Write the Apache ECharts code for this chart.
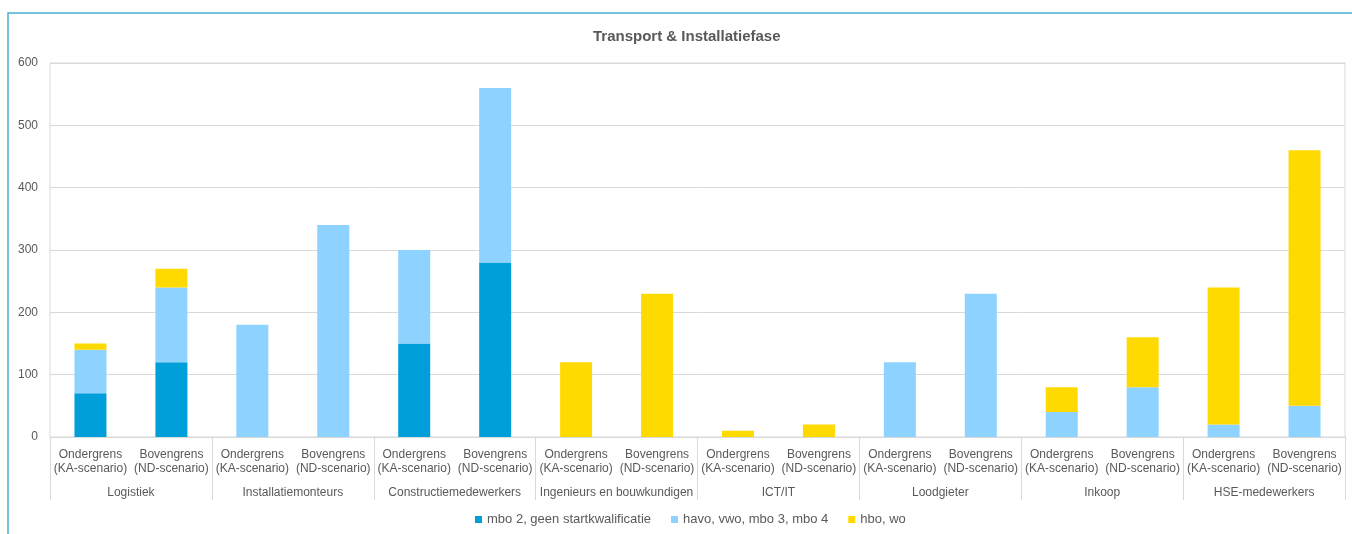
<!DOCTYPE html>
<html>
<head>
<meta charset="utf-8">
<script src="https://cdn.jsdelivr.net/npm/echarts@6/dist/echarts.min.js"></script>
<style>
html,body{margin:0;padding:0;background:#fff;}
#chart{width:1352px;height:534px;}
</style>
</head>
<body>
<div id="chart"></div>
<script>
var groups = ['Logistiek','Installatiemonteurs','Constructiemedewerkers','Ingenieurs en bouwkundigen','ICT/IT','Loodgieter','Inkoop','HSE-medewerkers'];
var subLabels = ['Ondergrens\n(KA-scenario)','Bovengrens\n(ND-scenario)'];
var seriesNames = ['mbo 2, geen startkwalificatie','havo, vwo, mbo 3, mbo 4','hbo, wo'];
var mbo  = [70,120, 0,0, 150,280, 0,0, 0,0, 0,0, 0,0, 0,0];
var havo = [70,120, 180,340, 150,280, 0,0, 0,0, 120,230, 40,80, 20,50];
var hbo  = [10,30, 0,0, 0,0, 120,230, 10,20, 0,0, 40,80, 220,410];
var yTicks = [0,100,200,300,400,500,600];

var cats = [];
groups.forEach(function(){ subLabels.forEach(function(s){ cats.push(s); }); });

var colors = ['#009FDA','#8ED2FF','#FFDA00'];
var font = 'Liberation Sans, Arial, sans-serif';
var chart = echarts.init(document.getElementById('chart'));
var vals = [mbo, havo, hbo];
chart.setOption({
  animation:false,
  textStyle:{fontFamily:font},
  title:{text:'Transport & Installatiefase',left:588,top:24,
    textStyle:{fontSize:15,fontWeight:'bold',color:'#595959',fontFamily:font}},
  legend:{bottom:3,left:470,itemWidth:7,itemHeight:7,itemGap:20,icon:'rect',
    textStyle:{fontSize:13,color:'#595959'},data:seriesNames},
  grid:{left:50,right:7,top:63,bottom:97,show:true,borderColor:'#d9d9d9',borderWidth:1},
  xAxis:[{
    type:'category',data:cats,position:'bottom',
    axisLine:{show:true,lineStyle:{color:'#d9d9d9',width:1}},
    axisTick:{show:false},
    axisLabel:{interval:0,color:'#595959',fontSize:12,lineHeight:14,margin:11}
  },{
    type:'category',data:groups,position:'bottom',
    axisLine:{show:false},
    axisTick:{show:true,length:63,lineStyle:{color:'#d9d9d9'}},
    axisLabel:{interval:0,color:'#595959',fontSize:12,margin:50}
  }],
  yAxis:{type:'value',min:yTicks[0],max:yTicks[yTicks.length-1],interval:100,
    axisLine:{show:false},axisTick:{show:false},
    axisLabel:{color:'#595959',fontSize:12,margin:12},
    splitLine:{lineStyle:{color:'#d9d9d9'}}},
  series:seriesNames.map(function(n,i){
    return {name:n,type:'bar',stack:'s',xAxisIndex:0,data:vals[i],barWidth:32,
      itemStyle:{color:colors[i]}};
  }),
  graphic:[{type:'polyline',shape:{points:[[8,534],[8,13],[1352,13]]},
    style:{stroke:'#4AAED4',lineWidth:1.5,fill:null},silent:true}]
});
</script>
</body>
</html>
